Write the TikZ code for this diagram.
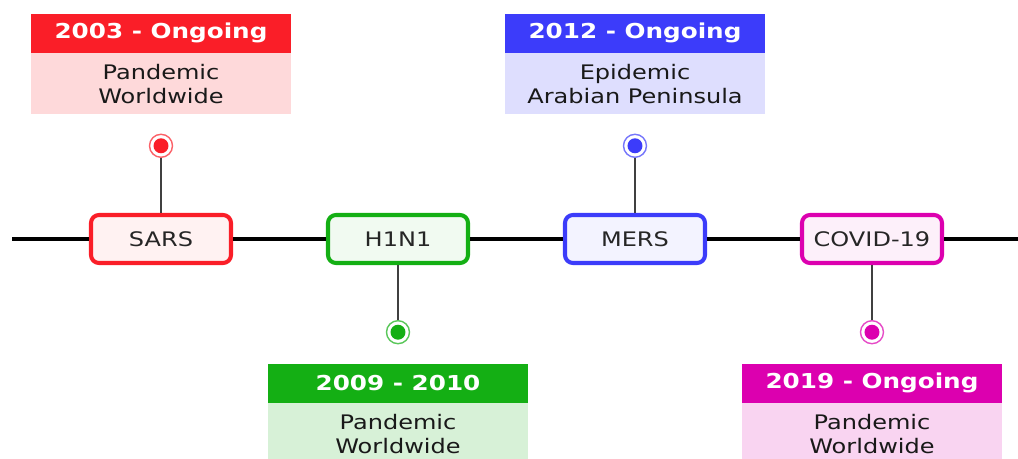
\documentclass[tikz,border=0pt]{standalone}
\usepackage{fontspec}
\setmainfont[FakeStretch=1.2]{DejaVu Sans}
\usetikzlibrary{positioning,chains}
\definecolor{sarsc}{RGB}{250,30,40}
\definecolor{h1n1c}{RGB}{20,175,20}
\definecolor{mersc}{RGB}{60,60,250}
\definecolor{covidc}{RGB}{220,0,175}

\begin{document}
\begin{tikzpicture}[x=0.02cm,y=-0.02cm,font=\fontsize{11.4}{13.6}\selectfont,
event/.style={rectangle,rounded corners=4.5pt,draw=#1,fill=#1!6,line width=2.3pt,
 minimum width=2.8cm,minimum height=0.96cm,text=black!85},
eventc/.style={event=#1,on chain,join},
pin/.style={circle,draw=#1!70,fill=white,line width=0.8pt,minimum size=0.46cm,inner sep=0pt,
 path picture={\fill[#1] (path picture bounding box.center) circle (0.15cm);}},
stem/.style={line width=1.1pt,black!75},
year/.style={fill=#1,text=white,font=\fontsize{11.7}{14}\selectfont\bfseries,
 minimum width=5.22cm,minimum height=0.78cm,inner sep=0pt},
info/.style={fill=#1!17,text=black!90,align=center,minimum width=5.22cm,
 minimum height=1.22cm,inner sep=0pt}]
 \useasboundingbox (0,0) rectangle (1018,459);
 \coordinate (tl) at (12,239);
 \coordinate (tr) at (1018,239);

 \begin{scope}[start chain=going right,node distance=1.86cm,
 every join/.style={line width=2.4pt}]
 \node[eventc=sarsc] (sars) at (161,239) {SARS};
 \node[eventc=h1n1c] (h1n1) {H1N1};
 \node[eventc=mersc] (mers) {MERS};
 \node[eventc=covidc] (covid) {COVID-19};
 \end{scope}
 \draw[line width=2.4pt] (tl) -- (sars);
 \draw[line width=2.4pt] (covid) -- (tr);

 \foreach \N/\C/\Y/\T in {sars/sarsc/2003 - Ongoing/{Pandemic\\Worldwide},
 mers/mersc/2012 - Ongoing/{Epidemic\\Arabian Peninsula}}
 {\node[pin=\C,above=1.1cm of \N] (p\N) {};
 \draw[stem] (p\N) -- (\N);
 \node[info=\C,above=0.38cm of p\N] (t\N) {\T};
 \node[year=\C,above=0pt of t\N] (y\N) {\Y};}

 \foreach \N/\C/\Y/\T in {h1n1/h1n1c/2009 - 2010/{Pandemic\\Worldwide},
 covid/covidc/2019 - Ongoing/{Pandemic\\Worldwide}}
 {\node[pin=\C,below=1.1cm of \N] (p\N) {};
 \draw[stem] (p\N) -- (\N);
 \node[year=\C,below=0.38cm of p\N] (y\N) {\Y};
 \node[info=\C,below=0pt of y\N] (t\N) {\T};}

\end{tikzpicture}
\end{document}
